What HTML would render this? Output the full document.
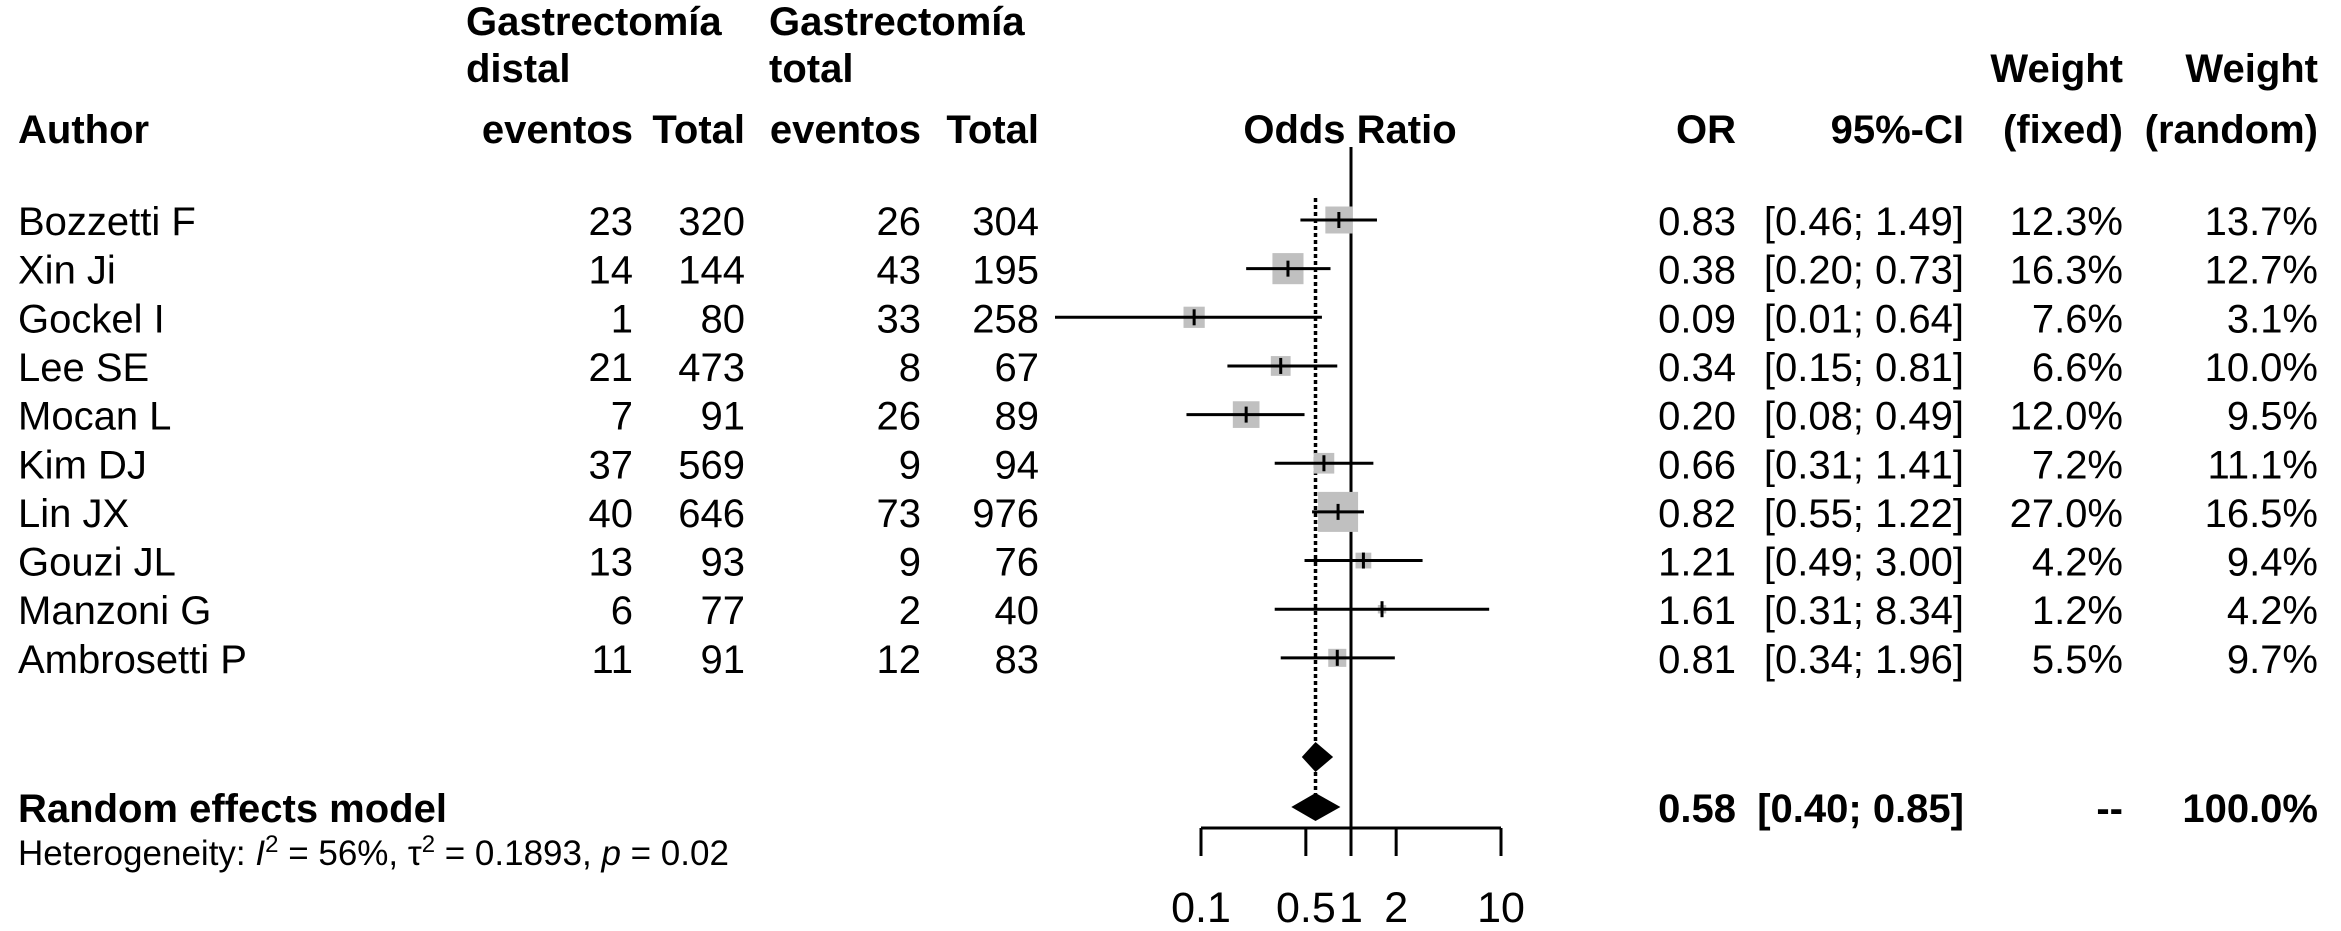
<!DOCTYPE html>
<html><head><meta charset="utf-8"><style>
html,body{margin:0;padding:0;background:#fff;}
svg{display:block;font-family:"Liberation Sans",Arial,sans-serif;}
</style></head><body>
<svg id="fp" width="2341" height="931" viewBox="0 0 2341 931" xmlns="http://www.w3.org/2000/svg">
<g id="hdr" font-weight="bold" font-size="40" fill="#000">
<text x="466" y="35">Gastrectomía</text>
<text x="466" y="82">distal</text>
<text x="769" y="35">Gastrectomía</text>
<text x="769" y="82">total</text>
<text x="18" y="143">Author</text>
<text x="633" y="143" text-anchor="end">eventos</text>
<text x="745" y="143" text-anchor="end">Total</text>
<text x="921" y="143" text-anchor="end">eventos</text>
<text x="1039" y="143" text-anchor="end">Total</text>
<text x="1350" y="143" text-anchor="middle">Odds Ratio</text>
<text x="1736" y="143" text-anchor="end">OR</text>
<text x="1964" y="143" text-anchor="end">95%-CI</text>
<text x="2123" y="82" text-anchor="end">Weight</text>
<text x="2123" y="143" text-anchor="end">(fixed)</text>
<text x="2318" y="82" text-anchor="end">Weight</text>
<text x="2318" y="143" text-anchor="end">(random)</text>
</g>
<g id="rows" font-size="40" fill="#000"></g>
<g id="plot"></g>
<g font-size="40" font-weight="bold">
<text x="18" y="822">Random effects model</text>
<text x="1736" y="822" text-anchor="end">0.58</text>
<text x="1964" y="822" text-anchor="end">[0.40; 0.85]</text>
<text x="2123" y="822" text-anchor="end">--</text>
<text x="2318" y="822" text-anchor="end">100.0%</text>
</g>
<text x="18" y="865" font-size="35">Heterogeneity: <tspan font-style="italic">I</tspan><tspan dy="-13" font-size="24">2</tspan><tspan dy="13"> = 56%, τ</tspan><tspan dy="-13" font-size="24">2</tspan><tspan dy="13"> = 0.1893, </tspan><tspan font-style="italic">p</tspan> = 0.02</text>
</svg>
<script>
const authors=["Bozzetti F","Xin Ji","Gockel I","Lee SE","Mocan L","Kim DJ","Lin JX","Gouzi JL","Manzoni G","Ambrosetti P"];
const ev1=[23,14,1,21,7,37,40,13,6,11];
const tot1=[320,144,80,473,91,569,646,93,77,91];
const ev2=[26,43,33,8,26,9,73,9,2,12];
const tot2=[304,195,258,67,89,94,976,76,40,83];
const orv=[0.83,0.38,0.09,0.34,0.20,0.66,0.82,1.21,1.61,0.81];
const lo=[0.46,0.20,0.01,0.15,0.08,0.31,0.55,0.49,0.31,0.34];
const hi=[1.49,0.73,0.64,0.81,0.49,1.41,1.22,3.00,8.34,1.96];
const wFixed=[12.3,16.3,7.6,6.6,12.0,7.2,27.0,4.2,1.2,5.5];
const wRandom=[13.7,12.7,3.1,10.0,9.5,11.1,16.5,9.4,4.2,9.7];
const fixedEst=[0.58,0.47,0.76];
const randomEst=[0.58,0.40,0.85];
const ticks=[0.1,0.5,1,2,10];
const tickLabels=["0.1","0.5","1","2","10"];

const NS="http://www.w3.org/2000/svg";
const X=v=>1351+150*Math.log10(v);
const Y=i=>220+48.65*i;
function mk(tag,attrs,parent,txt){const e=document.createElementNS(NS,tag);for(const k in attrs)e.setAttribute(k,attrs[k]);if(txt!==undefined)e.textContent=txt;parent.appendChild(e);return e;}
const rows=document.getElementById('rows'), plot=document.getElementById('plot');
const fmt=v=>v.toFixed(2);
authors.forEach((a,i)=>{
  const y=Y(i)+15;
  const cols=[[18,a,'start'],[633,ev1[i],'end'],[745,tot1[i],'end'],[921,ev2[i],'end'],[1039,tot2[i],'end'],[1736,fmt(orv[i]),'end'],[1964,'['+fmt(lo[i])+'; '+fmt(hi[i])+']','end'],[2123,wFixed[i].toFixed(1)+'%','end'],[2318,wRandom[i].toFixed(1)+'%','end']];
  const names=['author','events-distal','total-distal','events-total','total-total','or','ci','weight-fixed','weight-random'];
  cols.forEach((c,j)=>{
    const t=mk('text',{x:c[0],y:y,'text-anchor':c[2]},rows,String(c[1]));
    
    
  });
});
const l1=mk('line',{x1:X(1),x2:X(1),y1:147,y2:828,stroke:'#000','stroke-width':3},plot);


const l2=mk('line',{x1:X(randomEst[0]),x2:X(randomEst[0]),y1:198,y2:795,stroke:'#000','stroke-width':3.5,'stroke-dasharray':'4,3'},plot);


authors.forEach((a,i)=>{
  const y=Y(i), s=7.7*Math.sqrt(wFixed[i]);
  const r=mk('rect',{x:X(orv[i])-s/2,y:y-s/2,width:s,height:s,fill:'#c0c0c0'},plot);
  
  
  const c=mk('line',{x1:Math.max(X(lo[i]),1055),x2:X(hi[i]),y1:y,y2:y,stroke:'#000','stroke-width':3},plot);
  
  
  const p=mk('line',{x1:X(orv[i]),x2:X(orv[i]),y1:y-8,y2:y+8,stroke:'#000','stroke-width':3},plot);
  
  
});
function diamond(est,y,h,name){
  const d=mk('polygon',{points:`${X(est[1])},${y} ${X(est[0])},${y-h} ${X(est[2])},${y} ${X(est[0])},${y+h}`,fill:'#000'},plot);
  
  
}
diamond(fixedEst,757,15,'fixed-diamond');
diamond(randomEst,807,14,'random-diamond');
const ax=mk('line',{x1:X(0.1),x2:X(10),y1:828,y2:828,stroke:'#000','stroke-width':3},plot);


ticks.forEach((t,i)=>{
  const tk=mk('line',{x1:X(t),x2:X(t),y1:828,y2:856,stroke:'#000','stroke-width':3},plot);
  
  
  const tl=mk('text',{x:X(t),y:922,'text-anchor':'middle','font-size':43},plot,tickLabels[i]);
  
  
});
</script>
</body></html>
